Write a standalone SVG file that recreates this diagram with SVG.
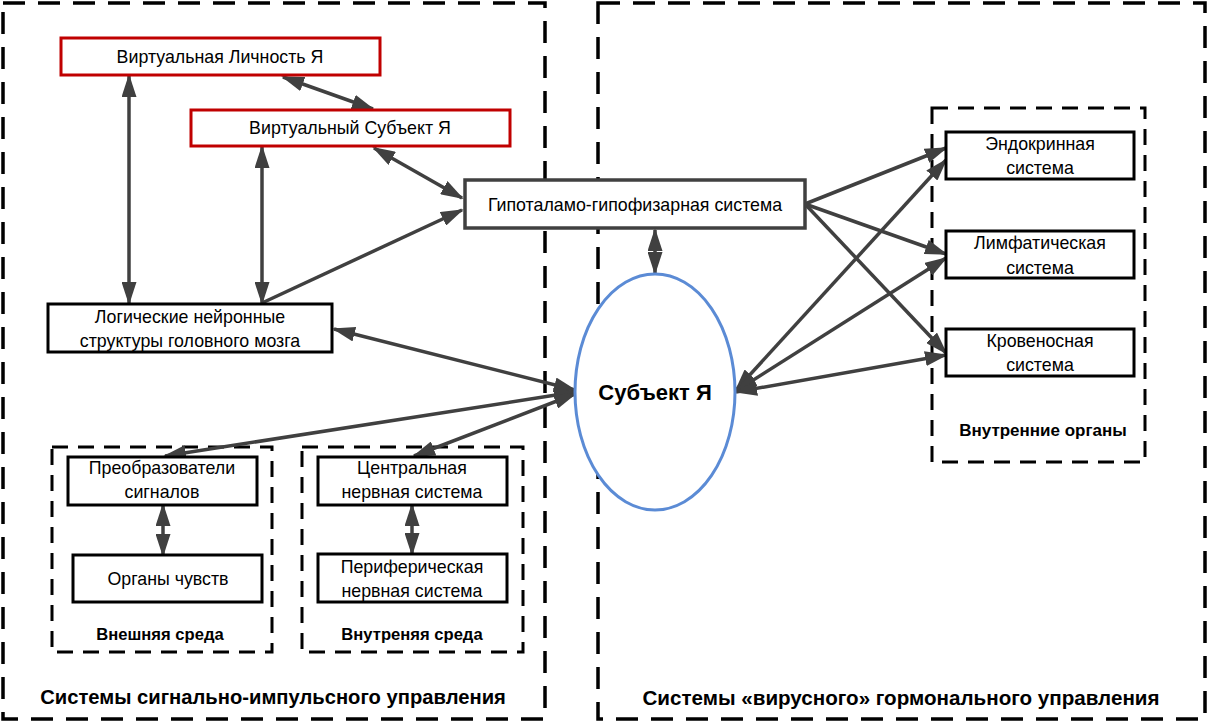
<svg xmlns="http://www.w3.org/2000/svg" width="1208" height="724" viewBox="0 0 1208 724">
<style>
.panel{fill:none;stroke:#000;stroke-width:3.5;stroke-dasharray:22 13}
.grp{fill:none;stroke:#000;stroke-width:3;stroke-dasharray:16 10}
.box{fill:#fff;stroke:#000;stroke-width:3}
.gbox{fill:#fff;stroke:#404040;stroke-width:3.5}
.rbox{fill:#fff;stroke:#C00000;stroke-width:3}
.t{font-family:"Liberation Sans",Arial,sans-serif;font-size:17.8px;fill:#000;text-anchor:middle;dominant-baseline:central}
.b{font-family:"Liberation Sans",Arial,sans-serif;font-weight:bold;fill:#000;text-anchor:middle;dominant-baseline:central}
.c{fill:none;stroke:#404040;stroke-width:3.5}
.ab{marker-start:url(#ah);marker-end:url(#ah)}
.ae{marker-end:url(#ah)}
</style>
<defs>
<marker id="ah" viewBox="0 0 23 15" refX="21" refY="7.5" markerWidth="23" markerHeight="15" markerUnits="userSpaceOnUse" orient="auto-start-reverse">
<path d="M0,0 L23,7.5 L0,15 z" fill="#404040"/>
</marker>
</defs>
<rect width="1208" height="724" fill="#fff"/>

<g id="panel-left">
<rect class="panel" x="3" y="3" width="542" height="716"/>
<text class="b" x="273" y="697" font-size="20.2">Системы сигнально-импульсного управления</text>
</g>
<g id="panel-right">
<rect class="panel" x="598" y="3" width="607" height="716"/>
<text class="b" x="901" y="697" font-size="20.6">Системы «вирусного» гормонального управления</text>
</g>
<g id="group-external">
<rect class="grp" x="52" y="447" width="220" height="205"/>
<text class="b" x="160" y="634" font-size="16.6">Внешняя среда</text>
</g>
<g id="group-internal">
<rect class="grp" x="302" y="447" width="221" height="205"/>
<text class="b" x="412" y="634" font-size="16.6">Внутреняя среда</text>
</g>
<g id="group-organs">
<rect class="grp" x="932" y="108" width="213" height="354"/>
<text class="b" x="1043" y="430" font-size="17">Внутренние органы</text>
</g>

<g id="connectors">
<line class="c ab" x1="129" y1="76" x2="129" y2="303"/>
<line class="c ab" x1="262" y1="147" x2="262" y2="303"/>
<line class="c ab" x1="283" y1="77" x2="373" y2="109"/>
<line class="c ab" x1="374" y1="148" x2="462" y2="198"/>
<line class="c ae" x1="262" y1="303" x2="462" y2="210"/>
<line class="c ab" x1="655" y1="230" x2="655" y2="273"/>
<line class="c ab" x1="334" y1="329" x2="575" y2="390"/>
<line class="c ab" x1="165" y1="456" x2="575" y2="392"/>
<line class="c ab" x1="414" y1="456" x2="575" y2="394"/>
<line class="c ab" x1="163" y1="505" x2="163" y2="555"/>
<line class="c ab" x1="412" y1="505" x2="412" y2="554"/>
<line class="c ae" x1="805" y1="204" x2="946" y2="148"/>
<line class="c ae" x1="805" y1="204" x2="946" y2="254"/>
<line class="c ae" x1="805" y1="204" x2="946" y2="353"/>
<line class="c ab" x1="736" y1="390" x2="946" y2="160"/>
<line class="c ab" x1="736" y1="391" x2="946" y2="258"/>
<line class="c ab" x1="736" y1="392" x2="946" y2="355"/>
</g>

<g id="node-virt-personality">
<rect class="rbox" x="61" y="38" width="319" height="37"/>
<text class="t" x="220" y="57">Виртуальная Личность Я</text>
</g>
<g id="node-virt-subject">
<rect class="rbox" x="191" y="110" width="319" height="36"/>
<text class="t" x="350" y="128">Виртуальный Субъект Я</text>
</g>
<g id="node-hypothalamus">
<rect class="gbox" x="465" y="180" width="340" height="48"/>
<text class="t" x="635" y="205">Гипоталамо-гипофизарная система</text>
</g>
<g id="node-logic">
<rect class="box" x="48" y="304" width="284" height="48"/>
<text class="t" x="190" y="317">Логические нейронные</text>
<text class="t" x="190" y="341">структуры головного мозга</text>
</g>
<g id="node-subject">
<ellipse cx="655" cy="392" rx="80" ry="118" fill="#fff" stroke="#5B8BD5" stroke-width="3"/>
<text class="b" x="655" y="392" font-size="22">Субъект Я</text>
</g>
<g id="node-endocrine">
<rect class="box" x="946" y="132" width="188" height="47"/>
<text class="t" x="1040" y="144">Эндокринная</text>
<text class="t" x="1040" y="168">система</text>
</g>
<g id="node-lymph">
<rect class="box" x="946" y="231" width="188" height="47"/>
<text class="t" x="1040" y="243">Лимфатическая</text>
<text class="t" x="1040" y="268">система</text>
</g>
<g id="node-blood">
<rect class="box" x="946" y="329" width="188" height="47"/>
<text class="t" x="1040" y="341">Кровеносная</text>
<text class="t" x="1040" y="365">система</text>
</g>
<g id="node-transducers">
<rect class="box" x="68" y="457" width="189" height="48"/>
<text class="t" x="162" y="468">Преобразователи</text>
<text class="t" x="162" y="492">сигналов</text>
</g>
<g id="node-senses">
<rect class="box" x="73" y="555" width="189" height="47"/>
<text class="t" x="168" y="579">Органы чувств</text>
</g>
<g id="node-cns">
<rect class="box" x="318" y="457" width="189" height="48"/>
<text class="t" x="412" y="468">Центральная</text>
<text class="t" x="412" y="492">нервная система</text>
</g>
<g id="node-pns">
<rect class="box" x="318" y="554" width="189" height="48"/>
<text class="t" x="412" y="567">Периферическая</text>
<text class="t" x="412" y="591">нервная система</text>
</g>
</svg>
